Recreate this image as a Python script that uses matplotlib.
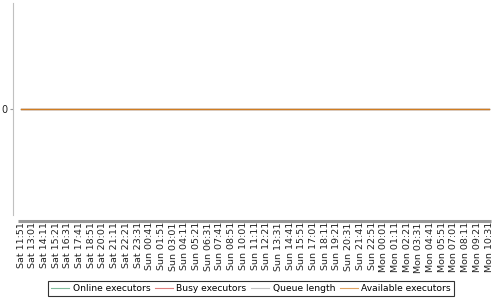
import matplotlib
matplotlib.use("Agg")
import matplotlib.pyplot as plt

labels = ["Sat 11:51", "Sat 13:01", "Sat 14:11", "Sat 15:21", "Sat 16:31", "Sat 17:41",
          "Sat 18:51", "Sat 20:01", "Sat 21:11", "Sat 22:21", "Sat 23:31",
          "Sun 00:41", "Sun 01:51", "Sun 03:01", "Sun 04:11", "Sun 05:21", "Sun 06:31",
          "Sun 07:41", "Sun 08:51", "Sun 10:01", "Sun 11:11", "Sun 12:21", "Sun 13:31",
          "Sun 14:41", "Sun 15:51", "Sun 17:01", "Sun 18:11", "Sun 19:21", "Sun 20:31",
          "Sun 21:41", "Sun 22:51", "Mon 00:01", "Mon 01:11", "Mon 02:21", "Mon 03:31",
          "Mon 04:41", "Mon 05:51", "Mon 07:01", "Mon 08:11", "Mon 09:21", "Mon 10:31"]

online_executors = [0] * 41
busy_executors = [0] * 41
queue_length = [0] * 41
available_executors = [0] * 41

series_names = ["Online executors", "Busy executors", "Queue length", "Available executors"]
series_values = [online_executors, busy_executors, queue_length, available_executors]
colors = ["#4a9e72", "#d04848", "#aaaaaa", "#d07c20"]

fig = plt.figure(figsize=(5, 3), dpi=100)
ax = fig.add_axes([18 / 500, 1 - 215 / 300, 473 / 500, 212 / 300])

for s in ["top", "right"]:
    ax.spines[s].set_visible(False)
ax.spines["left"].set_position(("outward", 3.6))
ax.spines["left"].set_color("#c0c0c0")
ax.spines["left"].set_linewidth(0.8)
ax.spines["bottom"].set_position(("outward", 4.0))
ax.spines["bottom"].set_color("#999999")
ax.spines["bottom"].set_linewidth(2.2)
ax.spines["bottom"].set_capstyle("butt")

x = list(range(len(labels)))
for name, vals, c in zip(series_names, series_values, colors):
    ax.plot(x, vals, color=c, lw=0.9, label=name)

ax.set_xlim(-0.26, len(labels) - 1 + 0.17)
ax.set_ylim(-1, 1)
ax.set_yticks([0])
ax.set_yticklabels(["0"])
ax.set_xticks(x)
ax.set_xticklabels(labels)

ax.tick_params(axis="x", length=0, pad=1.2, labelrotation=90, labelsize=6.8,
               labelcolor="#222222")
ax.tick_params(axis="y", length=2.2, color="#999999", labelsize=7, pad=2, labelcolor="#222222")

leg = fig.legend(loc="center", bbox_to_anchor=(251 / 500, 1 - 288.5 / 300), ncol=4,
                 fontsize=6.6, frameon=True, fancybox=False, edgecolor="black",
                 handlelength=2.0, handletextpad=0.35, columnspacing=0.5, borderpad=0.35,
                 borderaxespad=0)
leg.get_frame().set_linewidth(0.8)
for h in leg.get_lines():
    h.set_linewidth(0.8)
    h.set_alpha(0.7)

fig.savefig("out.png", dpi=100)
